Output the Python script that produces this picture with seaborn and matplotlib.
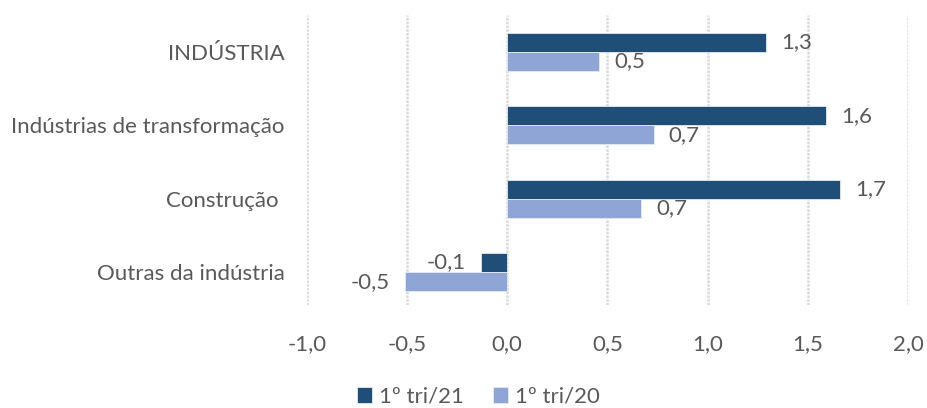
import matplotlib
matplotlib.use("Agg")
import matplotlib.pyplot as plt
import pandas as pd
import seaborn as sns

categories = ["INDÚSTRIA", "Indústrias de transformação", "Construção ", "Outras da indústria"]
series_names = ["1º tri/21", "1º tri/20"]
values_21 = [1.29, 1.59, 1.66, -0.13]
values_20 = [0.46, 0.73, 0.67, -0.51]
x_ticks = [-1.0, -0.5, 0.0, 0.5, 1.0, 1.5, 2.0]

colors = ["#1F4E79", "#8FA5D6"]
text_color = "#595959"

frame = pd.DataFrame({
    "categoria": categories * 2,
    "serie": [series_names[0]] * len(categories) + [series_names[1]] * len(categories),
    "valor": values_21 + values_20,
})

sns.set_style("white")
plt.rcParams["font.family"] = ["Lato", "DejaVu Sans"]

fig = plt.figure(figsize=(9.27, 4.08), dpi=100)
ax = fig.add_axes([0.331, 0.252, 0.6485, 0.711])

sns.barplot(
    data=frame,
    y="categoria",
    x="valor",
    hue="serie",
    order=categories,
    hue_order=series_names,
    palette=colors,
    saturation=1,
    orient="h",
    width=0.52,
    edgecolor="#e4eaf3",
    linewidth=0.6,
    legend=True,
    ax=ax,
)

for container in ax.containers:
    ax.bar_label(
        container,
        labels=[f"{v:.1f}".replace(".", ",") for v in container.datavalues],
        padding=11,
        fontsize=16,
        color=text_color,
    )

ax.set_xlim(-1.0, 2.0)
ax.set_ylim(3.45, -0.5)
ax.set_xticks(x_ticks)
ax.set_xticklabels([f"{t:.1f}".replace(".", ",") for t in x_ticks])
ax.xaxis.grid(True, color="#d9d9d9", linestyle=(0, (1, 0.5)), linewidth=1.8)
ax.set_axisbelow(True)
ax.tick_params(axis="x", length=0, pad=21, labelsize=16, labelcolor=text_color)
ax.tick_params(axis="y", length=0, pad=16, labelsize=16, labelcolor=text_color)
ax.set_xlabel("")
ax.set_ylabel("")
for spine in ax.spines.values():
    spine.set_visible(False)

handles, labels = ax.get_legend_handles_labels()
ax.get_legend().remove()
fig.legend(
    handles,
    labels,
    loc="center",
    bbox_to_anchor=(0.516, 0.027),
    ncol=2,
    frameon=False,
    fontsize=16,
    labelcolor=text_color,
    handlelength=0.7,
    handleheight=0.7,
    handletextpad=0.3,
    columnspacing=1.3,
)

fig.savefig("out.png", dpi=100)
plt.close(fig)
